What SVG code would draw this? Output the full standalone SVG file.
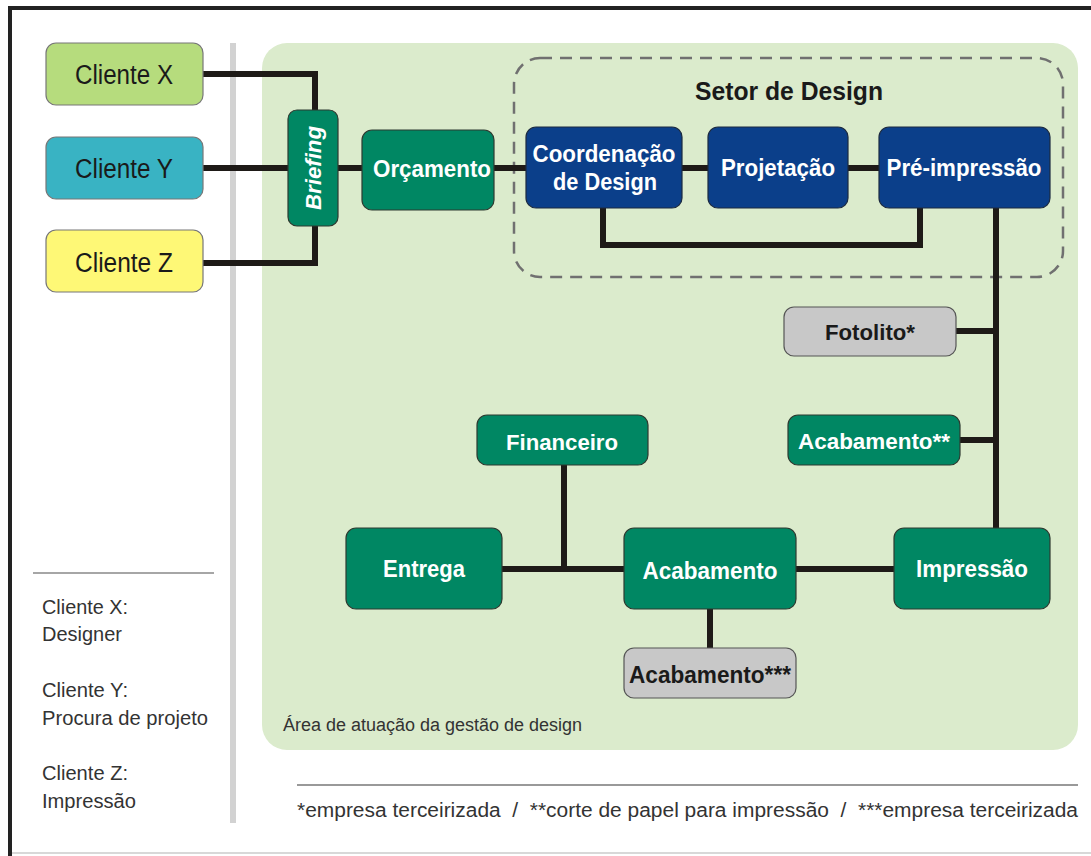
<svg xmlns="http://www.w3.org/2000/svg" width="1091" height="856" viewBox="0 0 1091 856">
<style>
.lbl{font-family:"Liberation Sans",Arial,sans-serif;font-weight:bold;text-anchor:middle}
.w{fill:#ffffff}
.d{fill:#1a1a1a}
.cli{font-family:"Liberation Sans",Arial,sans-serif;font-size:27px;fill:#1a1a1a;text-anchor:middle}
.green{fill:#008763;stroke:#2d3a30;stroke-width:1.2}
.blue{fill:#0b3f8a;stroke:#1c2a40;stroke-width:1.2}
.gray{fill:#c8c8c8;stroke:#555;stroke-width:1.2}
.conn{fill:none;stroke:#1e1a17;stroke-width:6}
.note{font-family:"Liberation Sans",Arial,sans-serif;font-size:20px;fill:#333}
</style>
<rect x="0" y="0" width="1091" height="856" fill="#ffffff"/>
<!-- frame -->
<line x1="8" y1="8" x2="1091" y2="8" stroke="#222" stroke-width="4"/>
<line x1="10" y1="6" x2="10" y2="856" stroke="#222" stroke-width="4"/>
<line x1="12" y1="853" x2="1091" y2="853" stroke="#d8d8d8" stroke-width="2"/>
<!-- separator -->
<rect x="230" y="43" width="6" height="780" fill="#d2d2d2"/>
<!-- area -->
<rect id="area" x="262" y="43" width="816" height="707" rx="25" fill="#dbebcc"/>
<text x="283" y="731" class="note" style="font-size:18px" textLength="299" lengthAdjust="spacingAndGlyphs">Área de atuação da gestão de design</text>
<!-- dashed sector -->
<g id="setor">
<rect x="514" y="58" width="549" height="219" rx="26" fill="none" stroke="#707070" stroke-width="2.5" stroke-dasharray="12,8"/>
<text x="789" y="100" class="lbl d" style="font-size:26px" textLength="188" lengthAdjust="spacingAndGlyphs">Setor de Design</text>
</g>
<!-- connectors -->
<g id="connectors">
<polyline class="conn" points="203,74 315,74 315,110"/>
<line class="conn" x1="203" y1="168" x2="288" y2="168"/>
<polyline class="conn" points="203,263 315,263 315,226"/>
<line class="conn" x1="338" y1="168" x2="362" y2="168"/>
<line class="conn" x1="494" y1="168" x2="526" y2="168"/>
<line class="conn" x1="682" y1="168" x2="708" y2="168"/>
<line class="conn" x1="848" y1="168" x2="879" y2="168"/>
<polyline class="conn" points="603,208 603,245 920,245 920,208"/>
<line class="conn" x1="996" y1="208" x2="996" y2="528"/>
<line class="conn" x1="956" y1="331" x2="996" y2="331"/>
<line class="conn" x1="960" y1="440" x2="996" y2="440"/>
<line class="conn" x1="502" y1="569" x2="624" y2="569"/>
<line class="conn" x1="564" y1="465" x2="564" y2="569"/>
<line class="conn" x1="796" y1="569" x2="894" y2="569"/>
<line class="conn" x1="710" y1="609" x2="710" y2="648"/>
</g>
<!-- clients -->
<g id="cliente-x">
<rect x="46" y="43" width="157" height="62" rx="10" fill="#b6dc7d" stroke="#777" stroke-width="1.2"/>
<text x="124" y="84" class="cli" textLength="98" lengthAdjust="spacingAndGlyphs">Cliente X</text>
</g>
<g id="cliente-y">
<rect x="46" y="137" width="157" height="62" rx="10" fill="#39b3c3" stroke="#777" stroke-width="1.2"/>
<text x="124" y="178" class="cli" textLength="98" lengthAdjust="spacingAndGlyphs">Cliente Y</text>
</g>
<g id="cliente-z">
<rect x="46" y="230" width="157" height="62" rx="10" fill="#fef876" stroke="#777" stroke-width="1.2"/>
<text x="124" y="272" class="cli" textLength="98" lengthAdjust="spacingAndGlyphs">Cliente Z</text>
</g>
<!-- briefing -->
<g id="briefing">
<rect x="288" y="110" width="50" height="116" rx="9" class="green"/>
<text transform="translate(321,168) rotate(-90)" x="0" y="0" class="lbl w" style="font-size:22px;font-style:italic" textLength="84" lengthAdjust="spacingAndGlyphs">Briefing</text>
</g>
<g id="orcamento">
<rect x="362" y="130" width="132" height="80" rx="10" class="green"/>
<text x="432" y="177" class="lbl w" style="font-size:23px" textLength="118" lengthAdjust="spacingAndGlyphs">Orçamento</text>
</g>
<g id="coordenacao">
<rect x="526" y="127" width="156" height="81" rx="10" class="blue"/>
<text x="604" y="162" class="lbl w" style="font-size:23px" textLength="143" lengthAdjust="spacingAndGlyphs">Coordenação</text>
<text x="605" y="190" class="lbl w" style="font-size:23px" textLength="104" lengthAdjust="spacingAndGlyphs">de Design</text>
</g>
<g id="projetacao">
<rect x="708" y="127" width="140" height="81" rx="10" class="blue"/>
<text x="778" y="176" class="lbl w" style="font-size:23px" textLength="114" lengthAdjust="spacingAndGlyphs">Projetação</text>
</g>
<g id="pre-impressao">
<rect x="879" y="127" width="171" height="81" rx="10" class="blue"/>
<text x="964" y="176" class="lbl w" style="font-size:23px" textLength="155" lengthAdjust="spacingAndGlyphs">Pré-impressão</text>
</g>
<g id="fotolito">
<rect x="784" y="307" width="172" height="49" rx="10" class="gray"/>
<text x="870" y="340" class="lbl d" style="font-size:22px" textLength="90" lengthAdjust="spacingAndGlyphs">Fotolito*</text>
</g>
<g id="acabamento2">
<rect x="788" y="415" width="172" height="50" rx="10" class="green"/>
<text x="874" y="449" class="lbl w" style="font-size:22px" textLength="152" lengthAdjust="spacingAndGlyphs">Acabamento**</text>
</g>
<g id="financeiro">
<rect x="477" y="415" width="171" height="50" rx="10" class="green"/>
<text x="562" y="450" class="lbl w" style="font-size:22px" textLength="112" lengthAdjust="spacingAndGlyphs">Financeiro</text>
</g>
<g id="entrega">
<rect x="346" y="528" width="156" height="81" rx="10" class="green"/>
<text x="424" y="577" class="lbl w" style="font-size:23px" textLength="82" lengthAdjust="spacingAndGlyphs">Entrega</text>
</g>
<g id="acabamento">
<rect x="624" y="528" width="172" height="81" rx="10" class="green"/>
<text x="710" y="579" class="lbl w" style="font-size:23px" textLength="135" lengthAdjust="spacingAndGlyphs">Acabamento</text>
</g>
<g id="impressao">
<rect x="894" y="528" width="156" height="81" rx="10" class="green"/>
<text x="972" y="577" class="lbl w" style="font-size:23px" textLength="112" lengthAdjust="spacingAndGlyphs">Impressão</text>
</g>
<g id="acabamento3">
<rect x="624" y="648" width="172" height="50" rx="10" class="gray"/>
<text x="710" y="683" class="lbl d" style="font-size:23px" textLength="162" lengthAdjust="spacingAndGlyphs">Acabamento***</text>
</g>
<!-- legend -->
<g id="legend">
<line x1="33" y1="573" x2="214" y2="573" stroke="#888" stroke-width="1.5"/>
<text x="42" y="614" class="note" textLength="86" lengthAdjust="spacingAndGlyphs">Cliente X:</text>
<text x="42" y="641" class="note" textLength="80" lengthAdjust="spacingAndGlyphs">Designer</text>
<text x="42" y="697" class="note" textLength="86" lengthAdjust="spacingAndGlyphs">Cliente Y:</text>
<text x="42" y="725" class="note" textLength="166" lengthAdjust="spacingAndGlyphs">Procura de projeto</text>
<text x="42" y="780" class="note" textLength="86" lengthAdjust="spacingAndGlyphs">Cliente Z:</text>
<text x="42" y="808" class="note" textLength="94" lengthAdjust="spacingAndGlyphs">Impressão</text>
</g>
<g id="footer">
<line x1="297" y1="785" x2="1078" y2="785" stroke="#999" stroke-width="2"/>
<text x="297" y="817" class="note" textLength="781" lengthAdjust="spacingAndGlyphs">*empresa terceirizada &#160;/ &#160;**corte de papel para impressão &#160;/ &#160;***empresa terceirizada</text>
</g>
</svg>
